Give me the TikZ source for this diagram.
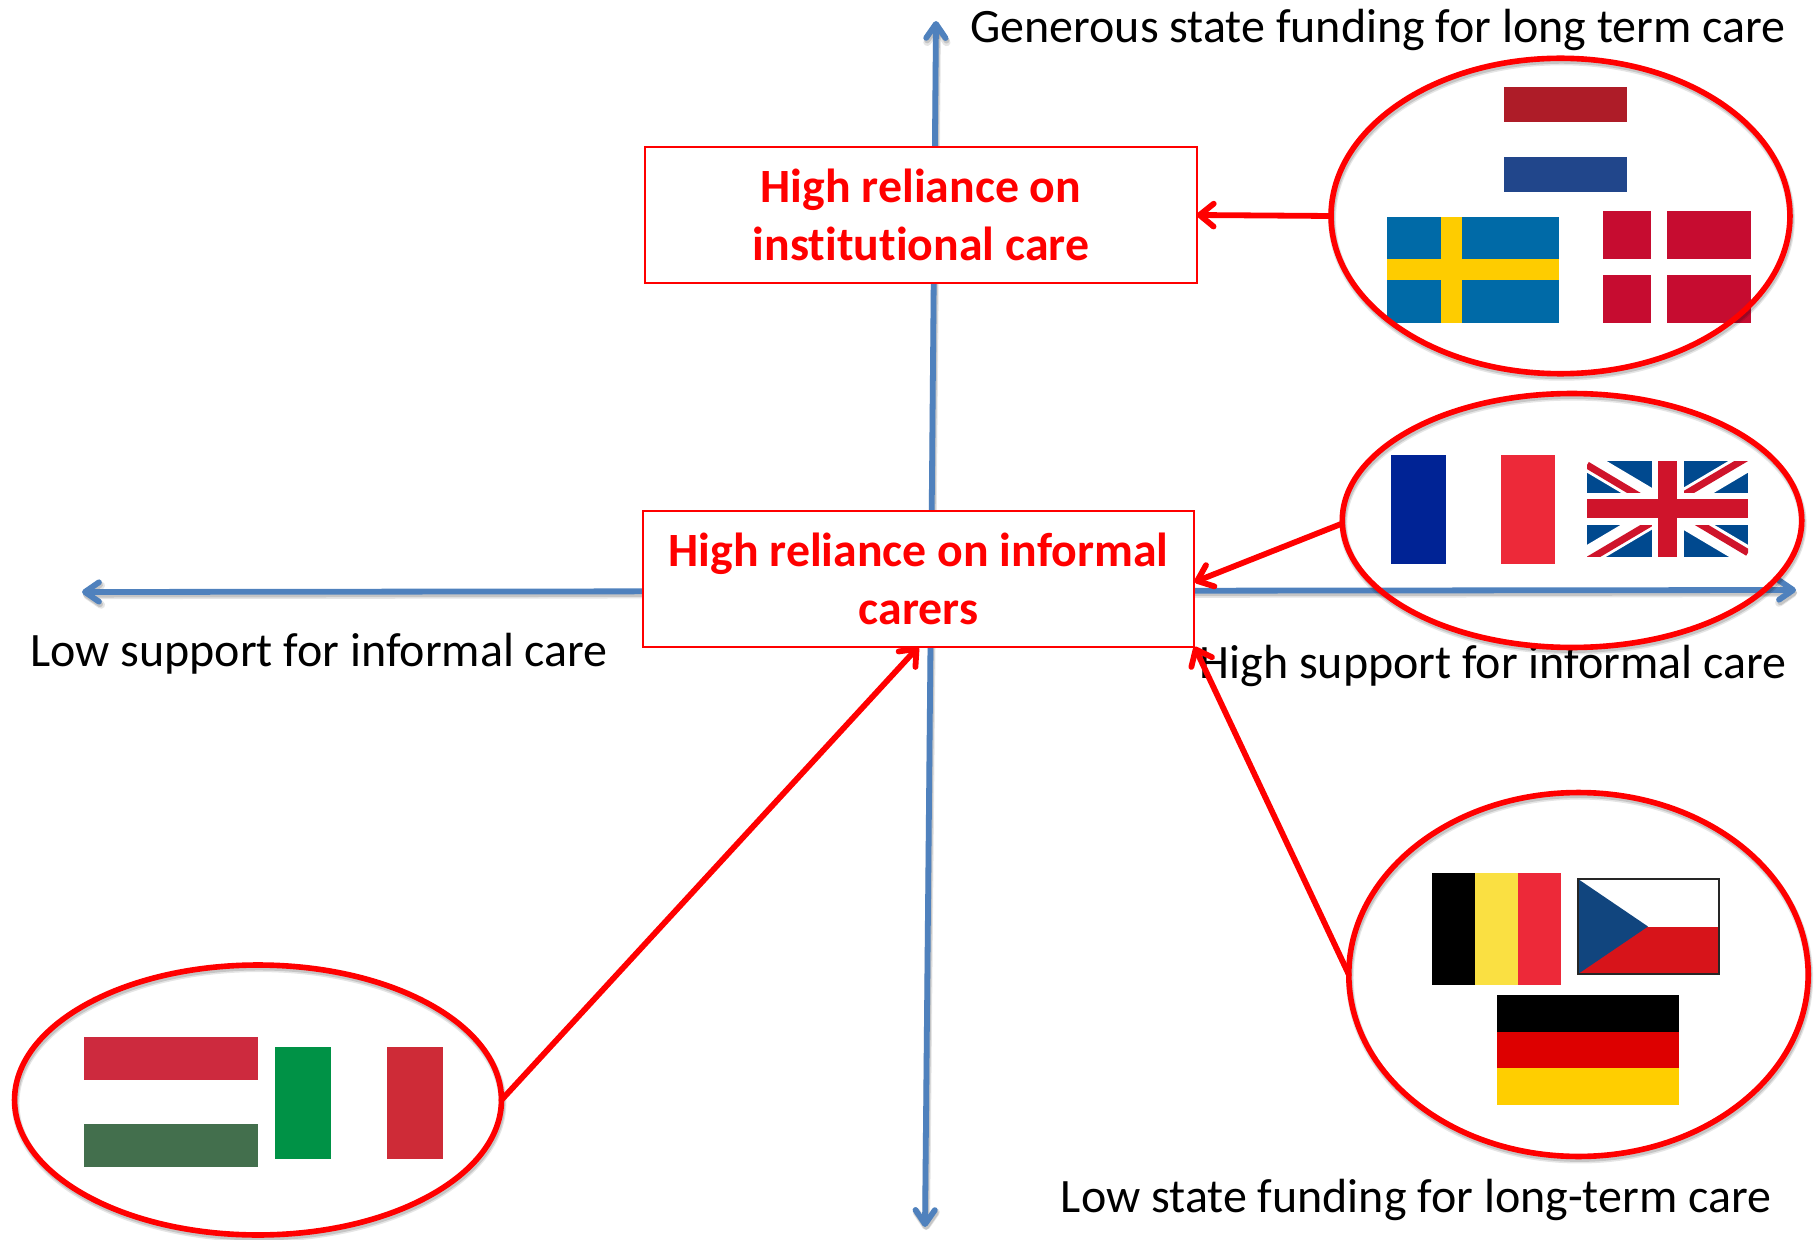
\documentclass[tikz,border=0pt]{standalone}
\usepackage{fontspec}
\setmainfont[Ligatures=NoCommon]{Carlito}
\usetikzlibrary{arrows.meta,shapes.geometric}
\definecolor{axisblue}{HTML}{4F81BD}
\definecolor{nlred}{HTML}{AE1C28}
\definecolor{nlblue}{HTML}{21468B}
\definecolor{seblue}{HTML}{006AA7}
\definecolor{seyellow}{HTML}{FECC00}
\definecolor{dkred}{HTML}{C60C30}
\definecolor{frblue}{HTML}{002395}
\definecolor{frred}{HTML}{ED2939}
\definecolor{ukblue}{HTML}{00498F}
\definecolor{ukred}{HTML}{CF142B}
\definecolor{beyellow}{HTML}{FAE042}
\definecolor{czblue}{HTML}{11457E}
\definecolor{czred}{HTML}{D7141A}
\definecolor{dered}{HTML}{DD0000}
\definecolor{deyellow}{HTML}{FFCE00}
\definecolor{hured}{HTML}{CD2A3E}
\definecolor{hugreen}{HTML}{436F4D}
\definecolor{itgreen}{HTML}{009246}
\definecolor{itred}{HTML}{CE2B37}
\tikzset{
  softshadow/.style={preaction={draw=black,opacity=.10,line width=#1+1.2pt,transform canvas={shift={(.6pt,-1.8pt)}}},
                     preaction={draw=black,opacity=.14,line width=#1,transform canvas={shift={(.6pt,-1.5pt)}}}},
  axisline/.style={draw=axisblue,line width=3.3pt,line cap=round,softshadow=3.3pt,
    -{Straight Barb[length=8pt,width=11pt,round]}},
  redarrow/.style={draw=red,line width=3.3pt,line cap=round,
    -{Straight Barb[length=8pt,width=13pt,round]}},
  claimbox/.style={rectangle,draw=red,fill=white,line width=1.1pt,inner sep=0pt,outer sep=0pt,
    text=red,align=center,font=\fontsize{27.2}{33}\selectfont\bfseries},
  axislabel/.style={anchor=base,inner sep=0pt,text=black,font=\fontsize{27.3}{32}\selectfont},
  flagring/.style={ellipse,draw=red,line width=3.2pt,inner sep=0pt,outer sep=0pt,softshadow=3.2pt},
}
\begin{document}
\begin{tikzpicture}[x=0.02cm,y=-0.02cm]
\useasboundingbox (0,0) rectangle (1820,1240);
% axes
\coordinate (axN) at (936,21);
\coordinate (axS) at (925,1227);
\coordinate (axW) at (82,592);
\coordinate (axE) at (1796,590);
\coordinate (axC) at (931,591);
\draw[axisline] (axC) -- (axN);
\draw[axisline] (axC) -- (axS);
\draw[axisline] (axC) -- (axW);
\draw[axisline] (axC) -- (axE);
% boxes
\node[claimbox,minimum width=11.03cm,minimum height=2.71cm] (boxI) at (921,215) {High reliance on\\institutional care};
\node[claimbox,minimum width=11.04cm,minimum height=2.71cm] (boxC) at (918.5,579) {High reliance on informal\\carers};
% labels
\node[axislabel] (lblTop) at (1378,42.5) {Generous state funding for long term care};
\node[axislabel] (lblLeft) at (319,666.5) {Low support for informal care};
\node[axislabel] (lblRight) at (1493,678.5) {High support for informal care};
\node[axislabel] (lblBottom) at (1416,1212) {Low state funding for long-term care};
% Netherlands
\fill[nlred] (1504,87) rectangle (1627,122);
\fill[nlblue] (1504,157.5) rectangle (1627,192.5);
% Sweden
\fill[seblue] (1387,217) rectangle (1559,323);
\fill[seyellow] (1441,217) rectangle (1462,323);
\fill[seyellow] (1387,259.5) rectangle (1559,280.5);
% Denmark
\fill[dkred] (1603,211) rectangle (1651,259);
\fill[dkred] (1667,211) rectangle (1751,259);
\fill[dkred] (1603,275) rectangle (1651,323);
\fill[dkred] (1667,275) rectangle (1751,323);
% France
\fill[frblue] (1391,455) rectangle (1445.5,564);
\fill[frred] (1500.5,455) rectangle (1555,564);
% UK
\begin{scope}
\clip (1587,461) rectangle (1748,556.5);
\fill[ukblue] (1587,461) rectangle (1748,556.5);
\draw[white,line width=11.4pt] (1587,461) -- (1748,556.5);
\draw[white,line width=11.4pt] (1587,556.5) -- (1748,461);
\draw[ukred,line width=4pt] (1587,465) -- (1667.5,513);
\draw[ukred,line width=4pt] (1748,457) -- (1667.5,504.6);
\draw[ukred,line width=4pt] (1748,552.7) -- (1667.5,504.6);
\draw[ukred,line width=4pt] (1587,560.7) -- (1667.5,513);
\fill[white] (1651.7,461) rectangle (1683.5,556.5);
\fill[white] (1587,492.7) rectangle (1748,524.7);
\fill[ukred] (1658,461) rectangle (1677.3,556.5);
\fill[ukred] (1587,499.3) rectangle (1748,518.3);
\end{scope}
% Belgium
\fill[black] (1432,873) rectangle (1475,985);
\fill[beyellow] (1475,873) rectangle (1518,985);
\fill[frred] (1518,873) rectangle (1561,985);
% Czechia
\fill[czred] (1578,926.5) rectangle (1719,974);
\fill[czblue] (1578,879) -- (1648,926.5) -- (1578,974) -- cycle;
\draw[black!85,line width=.8pt] (1578,879) rectangle (1719,974);
% Germany
\fill[black] (1497,995) rectangle (1679,1031.5);
\fill[dered] (1497,1031.5) rectangle (1679,1068);
\fill[deyellow] (1497,1068) rectangle (1679,1105);
% Hungary
\fill[hured] (84,1037) rectangle (258,1080);
\fill[hugreen] (84,1123.5) rectangle (258,1167);
% Italy
\fill[itgreen] (275,1047) rectangle (331,1159);
\fill[itred] (387,1047) rectangle (443,1159);
% rings
\node[flagring,minimum width=9.18cm,minimum height=6.31cm] (ringN) at (1560.5,216) {};
\node[flagring,minimum width=9.19cm,minimum height=5.08cm] (ringU) at (1572,520.5) {};
\node[flagring,minimum width=9.19cm,minimum height=7.28cm] (ringB) at (1578.5,974.5) {};
\node[flagring,minimum width=9.74cm,minimum height=5.40cm] (ringS) at (258,1100) {};
% connectors
\draw[redarrow] (ringN.west) -- (boxI.east);
\draw[redarrow] ([yshift=-0.06cm]ringU.west) -- ([yshift=-0.06cm]boxC.east);
\draw[redarrow] (ringB.west) -- (boxC.south east);
\draw[redarrow] (ringS.east) -- (boxC.south);
\end{tikzpicture}
\end{document}
